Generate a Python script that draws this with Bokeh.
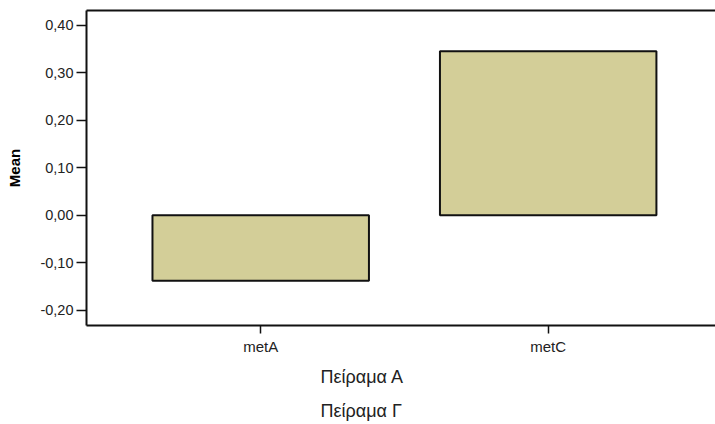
from bokeh.plotting import figure
from bokeh.models import (ColumnDataSource, FixedTicker, LinearAxis, Range1d,
                          CustomJSTickFormatter, Title)
from bokeh.embed import file_html
from bokeh.resources import INLINE

# ---- data ----
categories = ["metA", "metC"]
means = [-0.138, 0.345]
y_ticks = [-0.20, -0.10, 0.00, 0.10, 0.20, 0.30, 0.40]
legend_texts = ["Πείραμα Α", "Πείραμα Γ"]

positions = [i + 1 for i in range(len(categories))]
src = ColumnDataSource(dict(x=positions, top=means, bottom=[0] * len(means)))

FONT = "Liberation Sans"
W, H = 715, 424

p = figure(width=W, height=H, output_backend="svg", toolbar_location=None,
           x_range=Range1d(0.394, 2.582), y_range=Range1d(-0.232, 0.431),
           x_axis_location=None, y_axis_location=None,
           min_border_left=86, min_border_right=0, min_border_top=10,
           min_border_bottom=98)
p.grid.visible = False
p.outline_line_color = None
p.background_fill_color = "white"
p.border_fill_color = "white"

p.vbar(x="x", top="top", bottom="bottom", width=0.753, source=src,
       fill_color="#d3ce98", line_color="#111111", line_width=2)

yaxis = LinearAxis(ticker=FixedTicker(ticks=y_ticks),
                   formatter=CustomJSTickFormatter(code="return tick.toFixed(2).replace('.', ',');"))
yaxis.axis_line_width = 2
yaxis.axis_line_color = "#111111"
yaxis.major_tick_line_width = 1.5
yaxis.major_tick_line_color = "#111111"
yaxis.major_tick_out = 10
yaxis.major_tick_in = 0
yaxis.minor_tick_line_color = None
yaxis.major_label_text_font = FONT
yaxis.major_label_text_font_size = "14.5px"
yaxis.major_label_text_color = "#222222"
yaxis.major_label_standoff = 3
yaxis.axis_label = "Mean"
yaxis.axis_label_text_font = FONT
yaxis.axis_label_text_font_style = "bold"
yaxis.axis_label_text_font_size = "15px"
yaxis.axis_label_text_color = "#000000"
yaxis.axis_label_standoff = 14
p.add_layout(yaxis, "left")

xaxis = LinearAxis(ticker=FixedTicker(ticks=positions),
                   major_label_overrides={pos: c for pos, c in zip(positions, categories)})
xaxis.axis_line_width = 2
xaxis.axis_line_color = "#111111"
xaxis.major_tick_line_width = 1.5
xaxis.major_tick_line_color = "#111111"
xaxis.major_tick_out = 8
xaxis.major_tick_in = 0
xaxis.minor_tick_line_color = None
xaxis.major_label_text_font = FONT
xaxis.major_label_text_font_size = "15px"
xaxis.major_label_text_color = "#222222"
xaxis.major_label_standoff = 4
p.add_layout(xaxis, "below")

top_axis = LinearAxis(ticker=FixedTicker(ticks=[]))
top_axis.axis_line_width = 2
top_axis.axis_line_color = "#111111"
top_axis.major_tick_line_color = None
top_axis.minor_tick_line_color = None
top_axis.major_label_text_font_size = "0px"
top_axis.major_label_standoff = 0
p.add_layout(top_axis, "above")

for t, so in zip(legend_texts, [15, 8]):
    p.add_layout(Title(text=t, align="left", offset=234, standoff=so,
                       text_font=FONT, text_font_size="18px",
                       text_font_style="normal", text_color="#222222"), "below")

open("out.html", "w").write(file_html(p, INLINE))
